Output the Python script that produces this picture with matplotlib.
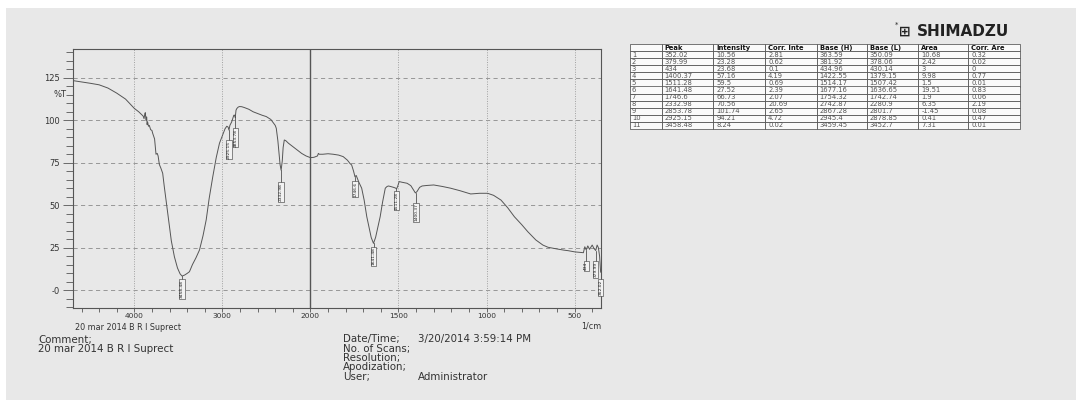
import numpy as np
import matplotlib
matplotlib.use("Agg")
import matplotlib.pyplot as plt
from matplotlib.patches import Rectangle

# spectrum (wavenumber in 1/cm, %T)
wavenumber = [4700, 4600, 4500, 4400, 4300, 4200, 4100, 4000, 3950, 3920, 3900, 3890, 3880, 3875,
              3868, 3860, 3855, 3849, 3840, 3830, 3815, 3800, 3792, 3770, 3754, 3740, 3730, 3716,
              3700, 3678, 3660, 3640, 3620, 3602, 3580, 3545, 3510, 3480, 3458, 3430, 3400, 3374,
              3340, 3300, 3260, 3220, 3184, 3150, 3109, 3070, 3033, 3000, 2970, 2950, 2935, 2925,
              2915, 2895, 2870, 2860, 2854, 2845, 2835, 2820, 2805, 2780, 2750, 2700, 2650, 2600,
              2550, 2502, 2450, 2400, 2388, 2370, 2355, 2345, 2333, 2320, 2310, 2297, 2280, 2250,
              2200, 2150, 2100, 2050, 2000, 1980, 1960, 1955, 1950, 1930, 1900, 1871, 1840, 1814,
              1790, 1775, 1766, 1755, 1747, 1740, 1725, 1709, 1695, 1680, 1665, 1655, 1642, 1630,
              1615, 1604, 1590, 1575, 1565, 1557, 1545, 1528, 1515, 1511, 1505, 1496, 1480, 1451,
              1430, 1415, 1404, 1395, 1380, 1366, 1340, 1300, 1250, 1204, 1150, 1090, 1040, 994,
              960, 918, 880, 842, 800, 766, 720, 680, 651, 600, 560, 537, 500, 470, 450, 442, 434,
              425, 415, 400, 390, 380, 372, 365, 358, 352]
transmittance = [123.4, 122.6, 121.8, 120.9, 119.0, 116.0, 112.5, 107.0, 105.0, 103.5, 102.5, 101.0, 104.0, 104.5,
                 100.0, 102.0, 97.5, 99.0, 96.5, 97.0, 94.5, 94.0, 92.4, 89.0, 80.0, 80.5, 79.0, 74.0,
                 72.0, 68.8, 61.0, 53.0, 45.0, 37.3, 29.0, 19.6, 13.0, 9.5, 8.24, 8.8, 9.8, 10.8,
                 15.0, 19.0, 23.6, 32.0, 41.3, 54.0, 66.8, 78.0, 86.5, 91.0, 95.0, 96.5, 96.0, 94.2,
                 97.0, 99.0, 103.0, 103.0, 101.7, 106.0, 107.0, 107.8, 108.1, 108.0, 107.5, 106.5, 105.0, 104.0,
                 103.0, 102.2, 100.5, 97.0, 95.3, 88.0, 80.0, 74.0, 70.6, 76.0, 84.0, 88.4, 88.0, 86.5,
                 84.5, 82.5, 80.5, 79.0, 78.0, 78.2, 79.0, 80.5, 80.0, 80.0, 80.3, 80.0, 79.5, 78.6,
                 76.5, 74.5, 73.7, 70.0, 66.7, 67.5, 63.5, 60.0, 53.0, 43.2, 36.0, 31.0, 27.5, 31.0,
                 38.0, 43.2, 52.0, 60.0, 61.0, 61.3, 61.0, 60.5, 60.0, 59.5, 61.0, 63.9, 63.5, 62.9,
                 61.5, 59.0, 57.2, 58.0, 60.5, 61.3, 61.6, 61.9, 61.0, 60.0, 58.5, 56.6, 57.0, 57.0,
                 55.8, 53.0, 48.5, 43.2, 38.5, 34.4, 29.5, 26.5, 25.2, 24.2, 23.5, 23.2, 22.5, 22.2, 22.0, 25.5, 23.7,
                 26.0, 24.0, 26.5, 24.5, 23.3, 26.5, 25.0, 20.0, 10.56]

# peak table
peak = [352.02, 379.99, 434, 1400.37, 1511.28, 1641.48, 1746.6, 2332.98, 2853.78, 2925.15, 3458.48]
intensity = [10.56, 23.28, 23.68, 57.16, 59.5, 27.52, 66.73, 70.56, 101.74, 94.21, 8.24]
corr_int = [2.81, 0.62, 0.1, 4.19, 0.69, 2.39, 2.07, 20.69, 2.65, 4.72, 0.02]
base_h = [363.59, 381.92, 434.96, 1422.55, 1514.17, 1677.16, 1754.32, 2742.87, 2867.28, 2945.4, 3459.45]
base_l = [350.09, 378.06, 430.14, 1379.15, 1507.42, 1636.65, 1742.74, 2280.9, 2801.7, 2878.85, 3452.7]
area = [10.68, 2.42, 3, 9.98, 1.5, 19.51, 1.9, 6.35, -1.45, 0.41, 7.31]
corr_area = [0.32, 0.02, 0, 0.77, 0.01, 0.83, 0.06, 2.19, 0.08, 0.47, 0.01]
col_labels = ["", "Peak", "Intensity", "Corr. Inte", "Base (H)", "Base (L)", "Area", "Corr. Are"]

# where the vertical peak labels start (%T)
label_top = [6, 16.5, 16.5, 51, 58, 25, 64, 63, 95, 88, 6]

x_ticks = [4000, 3000, 2000, 1500, 1000, 500]
y_ticks = [0, 25, 50, 75, 100, 125]
y_ticklabels = ["-0", "25", "50", "75", "100", "125"]

plt.rcParams['font.family'] = ['DejaVu Sans']
BG = '#e8e8e8'
TXT = '#333333'


# above 2000 1/cm the axis is compressed by two, like the instrument printout
def fwd(x):
    x = np.asarray(x, dtype=float)
    return np.where(x > 2000, 2000 + (x - 2000) / 2, x)


def inv(u):
    u = np.asarray(u, dtype=float)
    return np.where(u > 2000, 2000 + (u - 2000) * 2, u)


fig = plt.figure(figsize=(10.76, 4), dpi=100, facecolor=BG)
fig.patches.append(Rectangle((0, 1 - 8 / 400), 1, 8 / 400, transform=fig.transFigure, fc='white', ec='none'))
fig.patches.append(Rectangle((0, 0), 6 / 1076, 1, transform=fig.transFigure, fc='white', ec='none'))

ax = fig.add_axes([72.7 / 1076, 1 - 307.7 / 400, (601 - 72.7) / 1076, (307.7 - 49) / 400])
ax.set_facecolor('none')
ax.set_xscale('function', functions=(fwd, inv))
ax.set_xlim(4700, 350)
ax.set_ylim(-10.4, 142)

for y in y_ticks:
    ax.axhline(y, color='#8a8a8a', lw=0.6, ls=(0, (5, 4)), zorder=1)
for x in x_ticks:
    if x == 2000:
        ax.axvline(x, color='#555555', lw=1.0, zorder=1)
    else:
        ax.axvline(x, color='#a0a0a0', lw=0.7, ls=(0, (1, 1.5)), zorder=1)

ax.plot(wavenumber, transmittance, color='#555555', lw=0.7, zorder=3)

for p, inten, top in zip(peak, intensity, label_top):
    ax.plot([p, p], [inten, top], color='#333333', lw=0.5, zorder=3)
    ax.text(p, top, str(p), rotation=90, ha='center', va='top', fontsize=3.2, color='#222222', zorder=4,
            bbox=dict(boxstyle='square,pad=0.15', fc='#f2f2f2', ec='#333333', lw=0.4))

ax.set_xticks(x_ticks)
ax.set_xticklabels([str(t) for t in x_ticks])
minor_x = [t for t in list(range(4600, 2000, -200)) + list(range(1900, 300, -100)) if t not in x_ticks]
ax.set_xticks(minor_x, minor=True)
ax.set_yticks(y_ticks)
ax.set_yticklabels(y_ticklabels)
ax.set_yticks(np.arange(-10, 141, 5), minor=True)
ax.tick_params(axis='both', which='both', direction='out', color='#555555', labelcolor=TXT,
               labelsize=6.0, width=0.6)
ax.tick_params(axis='y', which='major', length=7, pad=2)
ax.tick_params(axis='y', which='minor', length=5)
ax.tick_params(axis='x', which='both', length=3, pad=1, labelsize=5.4)
for s in ax.spines.values():
    s.set_color('#555555')
    s.set_linewidth(0.8)
ax.text(-0.012, (115 + 10.4) / (142 + 10.4), "%T", transform=ax.transAxes, ha='right', va='center',
        fontsize=6.0, color=TXT)

fig.text(75 / 1076, 1 - 327 / 400, "20 mar 2014 B R I Suprect", fontsize=5.8, color=TXT, va='center')
fig.text(601 / 1076, 1 - 326 / 400, "1/cm", fontsize=5.8, color=TXT, va='center', ha='right')

# header block below the chart
fig.text(38 / 1076, 1 - 340 / 400, "Comment;", fontsize=7.4, color=TXT, va='center')
fig.text(38 / 1076, 1 - 349 / 400, "20 mar 2014 B R I Suprect", fontsize=7.4, color=TXT, va='center')
info = [("Date/Time;", "3/20/2014 3:59:14 PM"), ("No. of Scans;", ""), ("Resolution;", ""),
        ("Apodization;", ""), ("User;", "Administrator")]
for i, (k, v) in enumerate(info):
    yy = 1 - (339.3 + 9.35 * i) / 400
    fig.text(342.7 / 1076, yy, k, fontsize=7.4, color=TXT, va='center')
    fig.text(417.5 / 1076, yy, v, fontsize=7.4, color=TXT, va='center')

# logo
fig.text(899 / 1076, 1 - 32 / 400, "\u229e", fontsize=10, color='#222222', va='center', fontweight='bold')
fig.text(917 / 1076, 1 - 32 / 400, "SHIMADZU", fontsize=11, color='#222222', va='center', fontweight='bold')
fig.text(895 / 1076, 1 - 25 / 400, "*", fontsize=5, color='#222222', va='center')

# peak table
rows = []
for i in range(len(peak)):
    rows.append([str(i + 1), str(peak[i]), str(intensity[i]), str(corr_int[i]), str(base_h[i]),
                 str(base_l[i]), str(area[i]), str(corr_area[i])])
tax = fig.add_axes([630 / 1076, 1 - 129 / 400, 390 / 1076, 85 / 400])
tax.axis('off')
widths = [31.7, 51.6, 51.7, 51.7, 50, 51.6, 50, 51.7]
widths = [w / sum(widths) for w in widths]
tbl = tax.table(cellText=rows, colLabels=col_labels, colWidths=widths, cellLoc='left', colLoc='left',
                bbox=[0, 0, 1, 1])
tbl.auto_set_font_size(False)
tbl.set_fontsize(4.9)
for (r, c), cell in tbl.get_celld().items():
    cell.set_edgecolor('#444444')
    cell.set_linewidth(0.5)
    cell.set_facecolor('#fafafa')
    cell.PAD = 0.06
    if r == 0:
        cell.get_text().set_fontweight('bold')
        cell.get_text().set_color('#111111')
    else:
        cell.get_text().set_color('#555555')

fig.savefig("out.png", dpi=100, facecolor=BG)
